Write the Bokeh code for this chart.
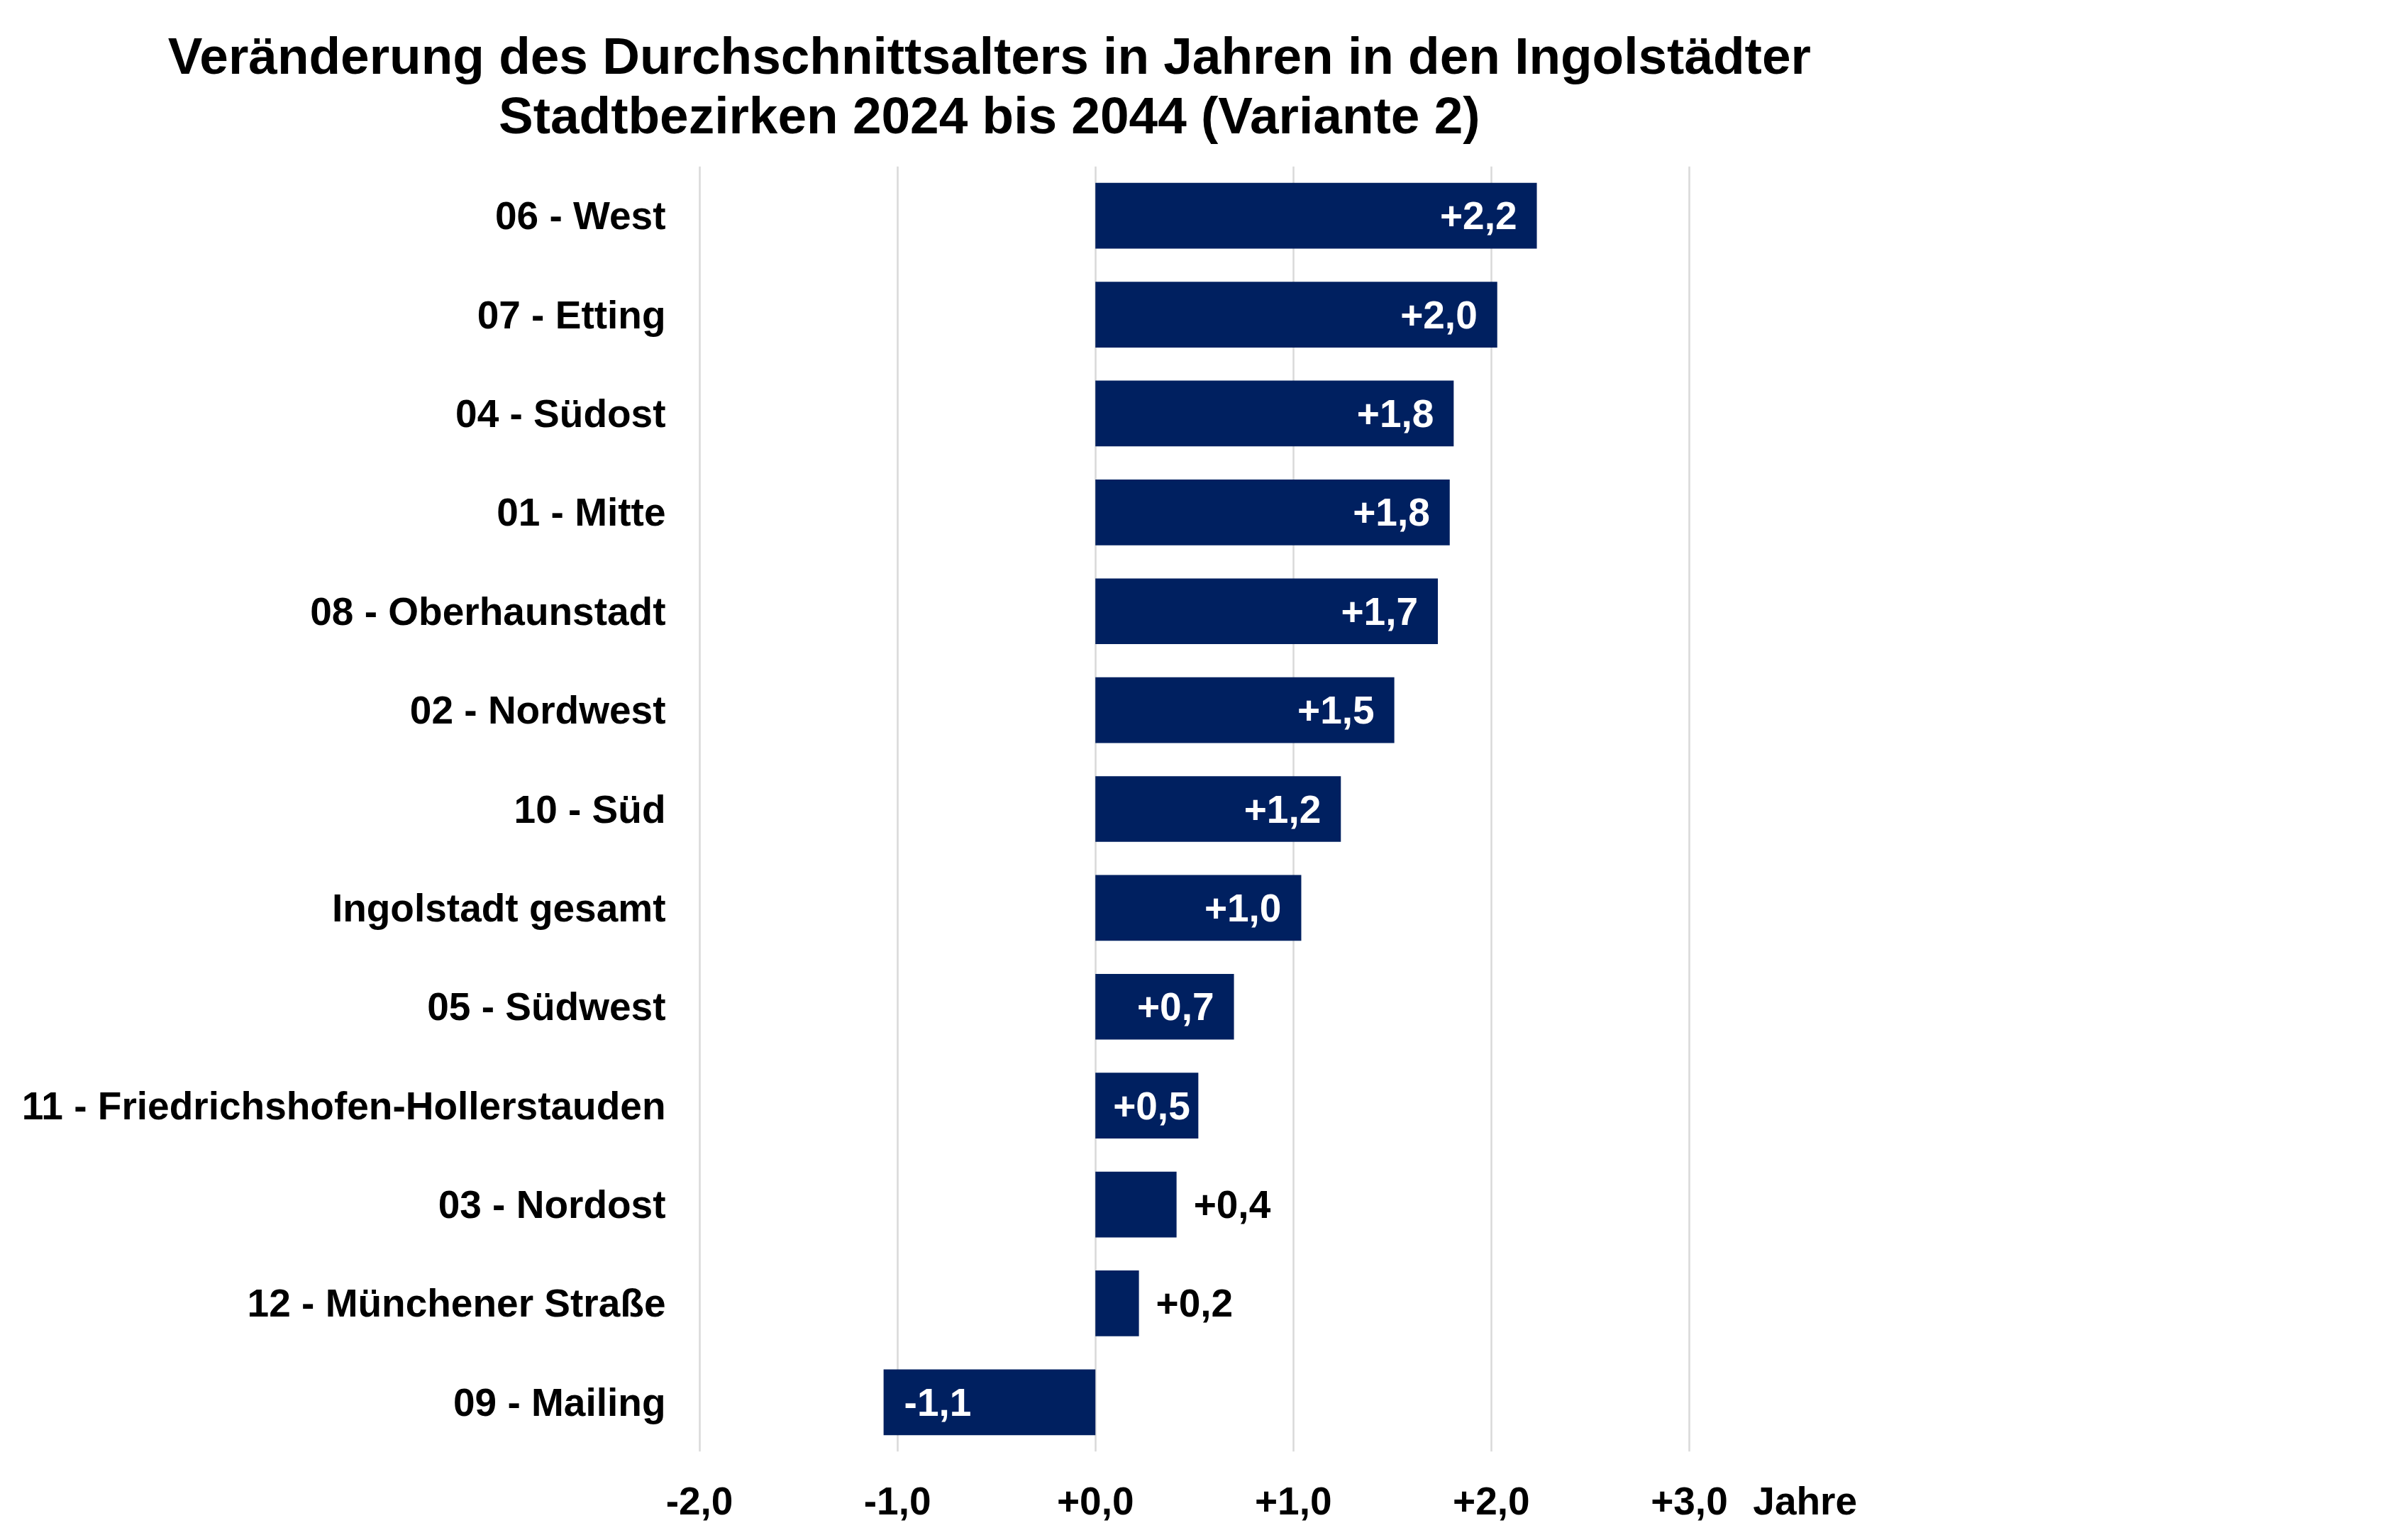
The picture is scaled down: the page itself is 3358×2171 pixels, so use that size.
from bokeh.plotting import figure
from bokeh.models import ColumnDataSource, FactorRange, Range1d, FixedTicker, LinearAxis
from bokeh.core.properties import value
from bokeh.embed import file_html
from bokeh.resources import INLINE

# ---- data ----
categories = [
    "06 - West", "07 - Etting", "04 - Südost", "01 - Mitte", "08 - Oberhaunstadt",
    "02 - Nordwest", "10 - Süd", "Ingolstadt gesamt", "05 - Südwest",
    "11 - Friedrichshofen-Hollerstauden", "03 - Nordost", "12 - Münchener Straße",
    "09 - Mailing",
]
changes = [2.23, 2.03, 1.81, 1.79, 1.73, 1.51, 1.24, 1.04, 0.70, 0.52, 0.41, 0.22, -1.07]
x_ticks = [-2, -1, 0, 1, 2, 3]
x_tick_labels = ["-2,0", "-1,0", "+0,0", "+1,0", "+2,0", "+3,0"]
title_lines = ["Veränderung des Durchschnittsalters in Jahren in den Ingolstädter",
               "Stadtbezirken 2024 bis 2044 (Variante 2)"]
axis_unit = "Jahre"

FONT = "Liberation Sans"
BAR = "#002060"
FS = 55            # label font size px
UNIT_PX = 279.2    # px per year

def fmt(v):
    return f"{v:+.1f}".replace(".", ",")

# approximate Arial/Liberation bold advance widths (em) for label text
ADV = {"+": 0.584, "-": 0.333, ",": 0.278}
def text_w(s):
    return sum(ADV.get(c, 0.556) for c in s) * FS

labels = [fmt(v) for v in changes]
inside = [abs(v) >= 0.5 for v in changes]
align, xoff, tcol = [], [], []
for v, s, ins in zip(changes, labels, inside):
    if ins and v > 0:
        align.append("right")
        xoff.append(-min(28, abs(v) * UNIT_PX - text_w(s) - 25))
        tcol.append("white")
    elif ins:
        align.append("left")
        xoff.append(29)
        tcol.append("white")
    else:
        align.append("left")
        xoff.append(24)
        tcol.append("black")

src = ColumnDataSource(dict(cat=categories, val=changes, lab=labels,
                            align=align, xoff=xoff, tcol=tcol))

W, H = 3340, 2150
X0, X1 = -2.02, 4.0
ZERO_PX = 1543.5
frame_left = ZERO_PX + X0 * UNIT_PX
frame_right = ZERO_PX + X1 * UNIT_PX
frame_top, frame_bottom = 234, 2046

p = figure(width=W, height=H, output_backend="svg", toolbar_location=None,
           y_range=FactorRange(*list(reversed(categories))),
           x_range=Range1d(X0, X1), title=None,
           min_border_left=int(round(frame_left)),
           min_border_right=int(round(W - frame_right)),
           min_border_top=frame_top, min_border_bottom=H - frame_bottom)
p.outline_line_color = None
p.background_fill_color = "white"
p.border_fill_color = "white"

p.hbar(y="cat", right="val", left=0, height=0.665, source=src,
       fill_color=BAR, line_color=None)

p.text(x="val", y="cat", text="lab", source=src, text_align="align",
       x_offset="xoff", text_color="tcol", text_baseline="middle",
       text_font=value(FONT), text_font_style="bold", text_font_size=f"{FS}px")

# grid
p.ygrid.grid_line_color = None
p.xgrid.ticker = FixedTicker(ticks=x_ticks)
p.xgrid.grid_line_color = "#D9D9D9"
p.xgrid.grid_line_width = 2.5

def plain_axis(ax, size, standoff):
    ax.axis_line_color = None
    ax.major_tick_line_color = None
    ax.minor_tick_line_color = None
    ax.major_tick_out = 0
    ax.major_tick_in = 0
    ax.major_label_standoff = standoff
    ax.major_label_text_font = FONT
    ax.major_label_text_font_style = "bold"
    ax.major_label_text_font_size = f"{size}px"
    ax.major_label_text_color = "black"

# x axis: numeric ticks plus the unit name placed right of the last tick
unit_x = x_ticks[-1] + (2468 + text_w("Jahre") / 2 - (ZERO_PX + x_ticks[-1] * UNIT_PX)) / UNIT_PX
xa = p.xaxis[0]
xa.ticker = FixedTicker(ticks=x_ticks + [unit_x])
overrides = dict(zip(x_ticks, x_tick_labels))
overrides[unit_x] = axis_unit
xa.major_label_overrides = overrides
plain_axis(xa, FS, 38)

# y axis
plain_axis(p.yaxis[0], FS, int(round(frame_left - 938)))

# title: two centred lines, set as labels of two stacked axes above the plot
title_x = (1394 - ZERO_PX) / UNIT_PX
for txt, so in zip(reversed(title_lines), [32, 0]):
    ta = LinearAxis(ticker=FixedTicker(ticks=[title_x]),
                    major_label_overrides={title_x: txt})
    plain_axis(ta, 73, so)
    p.add_layout(ta, "above")

open("out.html", "w").write(file_html(p, INLINE))
